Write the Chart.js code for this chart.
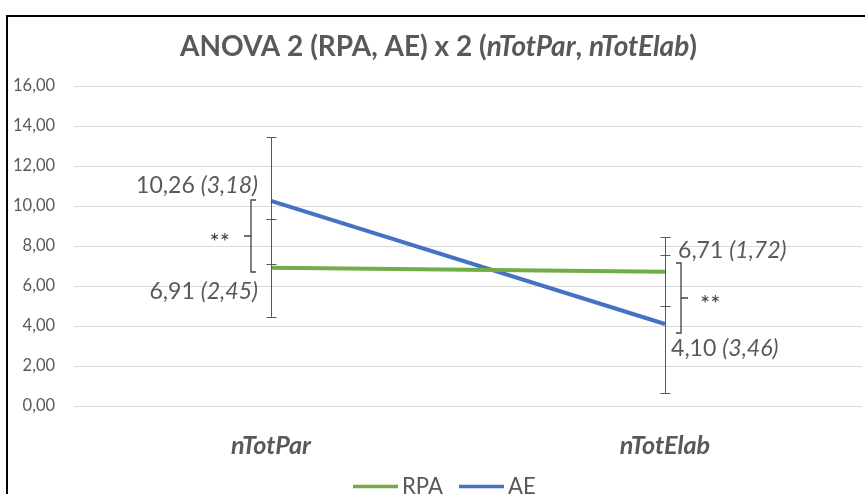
<!DOCTYPE html>
<html><head><meta charset="utf-8">
<script src="https://cdn.jsdelivr.net/npm/chart.js@4"></script>
<style>html,body{margin:0;padding:0;background:#fff;overflow:hidden}#wrap{width:865px;height:494px;position:relative}</style>
</head><body><div id="wrap"><canvas id="c" width="865" height="494"></canvas></div>
<script>
// ---- data ----
const categories = ['nTotPar', 'nTotElab'];
const seriesNames = ['RPA', 'AE'];
const rpaMeans = [6.91, 6.71];
const rpaSD = [2.45, 1.72];
const aeMeans = [10.26, 4.10];
const aeSD = [3.18, 3.46];
const yTickLabels = ['0,00', '2,00', '4,00', '6,00', '8,00', '10,00', '12,00', '14,00', '16,00'];
const bracketLeft = [10.3, 6.7];   // significance bracket at nTotPar (value range)
const bracketRight = [7.15, 3.65]; // significance bracket at nTotElab (value range)
const sigMark = '**';
const titleParts = [['ANOVA 2 (RPA, AE) x 2 (', false], ['nTotPar', true], [', ', false], ['nTotElab', true], [')', false]];

const FAM = 'Lato';
const GRAY = '#595959';
const fmt = v => v.toFixed(2).replace('.', ',');

function fontStr(it, weight, size) { return (it ? 'italic ' : '') + weight + ' ' + size + 'px ' + FAM; }
function measureParts(ctx, parts, weight, size) {
  let w = 0;
  for (const [t, it] of parts) { ctx.font = fontStr(it, weight, size); w += ctx.measureText(t).width; }
  return w;
}
function fitSize(ctx, parts, weight, target) {
  const base = 20;
  return base * target / measureParts(ctx, parts, weight, base);
}
function drawParts(ctx, parts, x, yBase, align, weight, size, color) {
  const w = measureParts(ctx, parts, weight, size);
  let cx = align === 'right' ? x - w : (align === 'center' ? x - w / 2 : x);
  ctx.textAlign = 'left'; ctx.textBaseline = 'alphabetic'; ctx.fillStyle = color;
  for (const [t, it] of parts) {
    ctx.font = fontStr(it, weight, size);
    ctx.fillText(t, cx, yBase);
    cx += ctx.measureText(t).width;
  }
}

const mctx = document.createElement('canvas').getContext('2d');
const xTickSize = fitSize(mctx, [['nTotPar', true]], 'bold', 80);
const labelSize = fitSize(mctx, [['10,26 ', false], ['(3,18)', true]], 'normal', 122);
const titleSize = fitSize(mctx, titleParts, 'bold', 517);
const legendSize = fitSize(mctx, [['RPA', false]], 'normal', 41);
const ySize = fitSize(mctx, [['16,00', false]], 'normal', 42);

const overlay = {
  id: 'overlay',
  afterDatasetsDraw(chart) {
    const ctx = chart.ctx;
    const xs = chart.scales.x, ys = chart.scales.y;
    ctx.save();
    // error bars
    ctx.strokeStyle = GRAY; ctx.lineWidth = 1;
    chart.data.datasets.forEach(ds => {
      ds.data.forEach((m, i) => {
        const x = Math.round(xs.getPixelForValue(i)) + 0.5;
        const yt = ys.getPixelForValue(m + ds.sd[i]);
        const yb = ys.getPixelForValue(m - ds.sd[i]);
        ctx.beginPath();
        ctx.moveTo(x, yt); ctx.lineTo(x, yb);
        ctx.moveTo(x - 5, Math.round(yt) + 0.5); ctx.lineTo(x + 5, Math.round(yt) + 0.5);
        ctx.moveTo(x - 5, Math.round(yb) + 0.5); ctx.lineTo(x + 5, Math.round(yb) + 0.5);
        ctx.stroke();
      });
    });
    // brackets
    ctx.strokeStyle = '#404040'; ctx.lineWidth = 1.3;
    const drawBracket = (bx, range, dir) => {
      const y1 = ys.getPixelForValue(range[0]), y2 = ys.getPixelForValue(range[1]);
      const ym = (y1 + y2) / 2;
      ctx.beginPath();
      ctx.moveTo(bx + dir * 5, y1); ctx.lineTo(bx, y1); ctx.lineTo(bx, y2); ctx.lineTo(bx + dir * 5, y2);
      ctx.moveTo(bx, ym); ctx.lineTo(bx - dir * 7, ym);
      ctx.stroke();
      return ym;
    };
    const x0 = xs.getPixelForValue(0), x1 = xs.getPixelForValue(1);
    const ymL = drawBracket(x0 - 20, bracketLeft, 1);
    const ymR = drawBracket(x1 + 16, bracketRight, -1);
    const sigSize = 24;
    ctx.font = fontStr(false, 'normal', sigSize);
    ctx.fillStyle = '#404040'; ctx.textBaseline = 'alphabetic';
    ctx.textAlign = 'right'; ctx.fillText(sigMark, x0 - 41, ymL + 0.6 * sigSize);
    ctx.textAlign = 'left'; ctx.fillText(sigMark, x1 + 35, ymR + 0.6 * sigSize);
    // value labels
    const lab = (m, sd) => [[fmt(m) + ' ', false], ['(' + fmt(sd) + ')', true]];
    const asc = 0.36 * labelSize;
    drawParts(ctx, lab(aeMeans[0], aeSD[0]), x0 - 13, ys.getPixelForValue(aeMeans[0]) - 16 + asc, 'right', 'normal', labelSize, GRAY);
    drawParts(ctx, lab(rpaMeans[0], rpaSD[0]), x0 - 13, ys.getPixelForValue(rpaMeans[0]) + 23 + asc, 'right', 'normal', labelSize, GRAY);
    drawParts(ctx, lab(rpaMeans[1], rpaSD[1]), x1 + 13, ys.getPixelForValue(rpaMeans[1]) - 22 + asc, 'left', 'normal', labelSize, GRAY);
    drawParts(ctx, lab(aeMeans[1], aeSD[1]), x1 + 6, ys.getPixelForValue(aeMeans[1]) + 24 + asc, 'left', 'normal', labelSize, GRAY);
    ctx.restore();
  },
  afterDraw(chart) {
    const ctx = chart.ctx;
    ctx.save();
    // title
    drawParts(ctx, titleParts, 438.5, 46 + 0.36 * titleSize, 'center', 'bold', titleSize, GRAY);
    // legend
    const legendX = [353, 459];
    chart.data.datasets.forEach((ds, i) => {
      ctx.strokeStyle = ds.borderColor; ctx.lineWidth = 3.5; ctx.lineCap = 'butt';
      ctx.beginPath(); ctx.moveTo(legendX[i], 486.5); ctx.lineTo(legendX[i] + 45, 486.5); ctx.stroke();
      drawParts(ctx, [[ds.label, false]], legendX[i] + 49, 486 + 0.36 * legendSize, 'left', 'normal', legendSize, GRAY);
    });
    // frame
    ctx.strokeStyle = '#000'; ctx.lineWidth = 2;
    ctx.strokeRect(7, 16, 900, 600);
    ctx.restore();
  }
};

new Chart(document.getElementById('c'), {
  type: 'line',
  data: {
    labels: categories,
    datasets: [
      { label: seriesNames[0], data: rpaMeans, sd: rpaSD, borderColor: '#70ad47', backgroundColor: '#70ad47', borderWidth: 4, pointRadius: 0, tension: 0 },
      { label: seriesNames[1], data: aeMeans, sd: aeSD, borderColor: '#4472c4', backgroundColor: '#4472c4', borderWidth: 4, pointRadius: 0, tension: 0 }
    ]
  },
  options: {
    responsive: false, animation: false, devicePixelRatio: 1,
    layout: { padding: { top: 86, right: 3, left: 0, bottom: 0 } },
    plugins: { legend: { display: false }, title: { display: false }, tooltip: { enabled: false } },
    scales: {
      x: {
        offset: true,
        grid: { display: false, drawTicks: false },
        border: { display: false },
        ticks: { padding: 25, color: GRAY, font: { family: FAM, size: xTickSize, weight: 'bold', style: 'italic' } },
        afterFit(s) { s.height = 88; }
      },
      y: {
        min: 0, max: 16,
        ticks: { stepSize: 2, padding: 19, color: GRAY, font: { family: FAM, size: ySize }, callback: (v, i) => yTickLabels[i] },
        grid: { color: '#d9d9d9', drawTicks: false, lineWidth: 1 },
        border: { display: false },
        afterFit(s) { s.width = 74; }
      }
    }
  },
  plugins: [overlay]
});
</script>
</body></html>
